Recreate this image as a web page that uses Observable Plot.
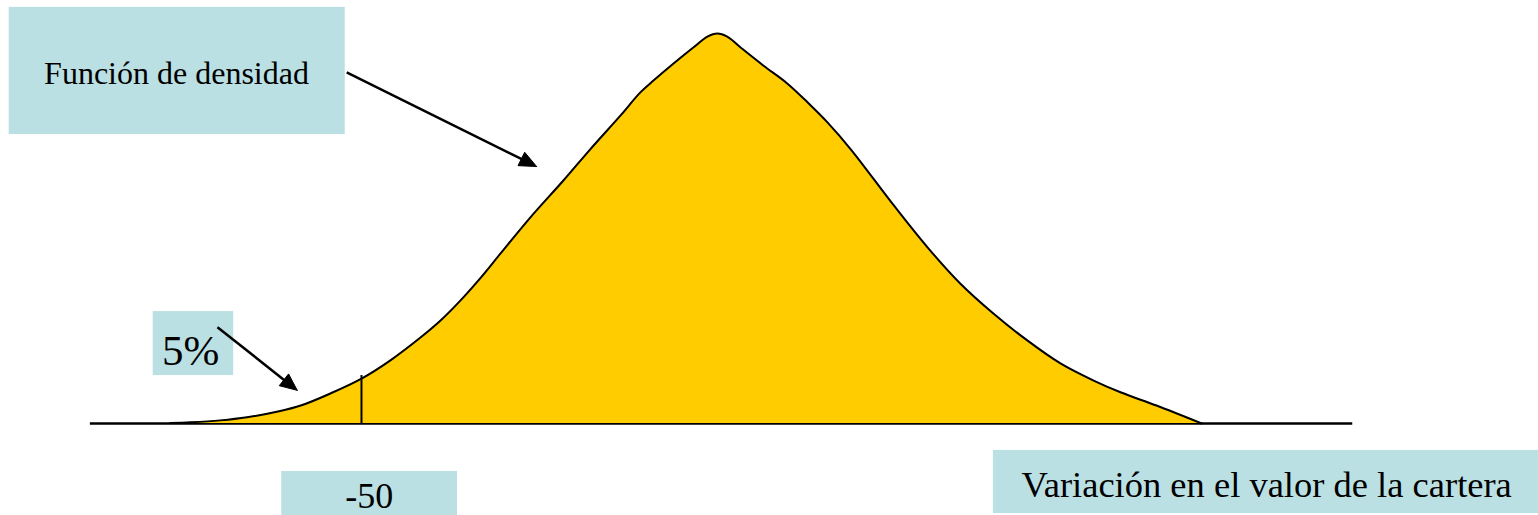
<!DOCTYPE html>
<html>
<head>
<meta charset="utf-8">
<script src="https://cdn.jsdelivr.net/npm/d3@7"></script>
<script src="https://cdn.jsdelivr.net/npm/@observablehq/plot@0.6"></script>
<style>
  html, body { margin: 0; padding: 0; background: #ffffff; }
  #chart svg { display: block; }
  #chart svg text { font-family: "Liberation Serif", "Times New Roman", serif !important; }
</style>
</head>
<body>
<div id="chart"></div>
<script>
// ---- Data ----
// Portfolio value change (x) and relative density (y, peak = 1)
const variation = [-77.1, -74.2, -70.0, -66.2, -61.5, -58.6, -54.4, -50.0, -45.9, -41.6, -38.8, -36.0, -33.1, -30.3, -26.1, -21.4, -17.6, -13.3, -10.5, -8.6, -5.8, -3.0, -1.0, 0.4, 1.8, 3.7, 6.9, 10.3, 13.2, 16.0, 19.3, 25.4, 30.2, 34.8, 39.5, 44.3, 49.0, 53.7, 57.5, 62.6, 69.0];
const density   = [0.001, 0.003, 0.008, 0.016, 0.032, 0.046, 0.077, 0.115, 0.162, 0.221, 0.264, 0.315, 0.374, 0.436, 0.528, 0.623, 0.703, 0.790, 0.849, 0.880, 0.923, 0.964, 0.992, 1.0, 0.992, 0.964, 0.918, 0.872, 0.823, 0.772, 0.703, 0.559, 0.451, 0.359, 0.282, 0.213, 0.154, 0.110, 0.080, 0.046, 0.0];
const varValue = -50;           // 5% quantile
const baselineExtent = [-88.4, 90.4];

// Labels
const densityLabel = "Función de densidad";
const tailLabel = "5%";
const varLabel = "-50";
const axisLabel = "Variación en el valor de la cartera";

// ---- Layout (annotation placement in data units) ----
const W = 1538, H = 515;
const xDomain = [-101.13, 116.71];
const yDomain = [-0.2359, 1.0846];

const boxes = [
  {x1: -99.9, x2: -52.3, y1: 0.741, y2: 1.067},
  {x1: -79.5, x2: -68.1, y1: 0.123, y2: 0.287},
  {x1: -61.3, x2: -36.4, y1: -0.26, y2: -0.123},
  {x1: 39.5, x2: 116.7, y1: -0.231, y2: -0.069}
];
const texts = [
  {x: -76.2, y: 0.897, text: densityLabel, size: 32},
  {x: -74.2, y: 0.185, text: tailLabel, size: 43},
  {x: -48.9, y: -0.187, text: varLabel, size: 36},
  {x: 78.2, y: -0.159, text: axisLabel, size: 36.5}
];
const arrows = [
  {x1: -52.1, y1: 0.900, x2: -25.2, y2: 0.659},
  {x1: -70.4, y1: 0.247, x2: -59.1, y2: 0.085}
];

// ---- Build ----
const curve = variation.map((v, i) => ({x: v, y: density[i]}));
const varDensity = density[variation.indexOf(varValue)];

const X = d3.scaleLinear(xDomain, [0, W]);
const Y = d3.scaleLinear(yDomain, [H, 0]);
function arrowParts(a, L = 17, w = 15) {
  const x0 = X(a.x1), y0 = Y(a.y1), x1 = X(a.x2), y1 = Y(a.y2);
  const ang = Math.atan2(y1 - y0, x1 - x0);
  const bx = x1 - L * Math.cos(ang), by = y1 - L * Math.sin(ang);
  const px = -Math.sin(ang) * w / 2, py = Math.cos(ang) * w / 2;
  const tri = [[x1, y1], [bx + px, by + py], [bx - px, by - py], [x1, y1]]
    .map(([x, y]) => ({x: X.invert(x), y: Y.invert(y)}));
  const shaft = {x1: a.x1, y1: a.y1, x2: X.invert(bx + Math.cos(ang)), y2: Y.invert(by + Math.sin(ang))};
  return {tri, shaft};
}
const parts = arrows.map(a => arrowParts(a));

const font = "Liberation Serif";

const marks = [
  Plot.rect(boxes, {x1: "x1", x2: "x2", y1: "y1", y2: "y2", fill: "#BBE0E3"}),
  Plot.ruleY([0], {x1: baselineExtent[0], x2: baselineExtent[1], stroke: "black", strokeWidth: 2.5}),
  Plot.areaY(curve, {x: "x", y: "y", curve: "catmull-rom", fill: "#FFCC00"}),
  Plot.line(curve, {x: "x", y: "y", curve: "catmull-rom", stroke: "black", strokeWidth: 2}),
  Plot.ruleX([varValue], {y1: 0, y2: varDensity + 0.008, stroke: "black", strokeWidth: 2}),
  Plot.link(parts.map(p => p.shaft), {x1: "x1", y1: "y1", x2: "x2", y2: "y2", stroke: "black", strokeWidth: 2.5}),
  ...parts.map(p => Plot.line(p.tri, {x: "x", y: "y", fill: "black", stroke: "black", strokeWidth: 1})),
  ...texts.map(t => Plot.text([t], {x: "x", y: "y", text: "text", fontSize: t.size, fontFamily: font, fill: "black", textAnchor: "middle"}))
];

const chart = Plot.plot({
  width: W,
  height: H,
  margin: 0,
  x: {domain: xDomain, range: [0, W], axis: null},
  y: {domain: yDomain, range: [H, 0], axis: null},
  style: {background: "white"},
  marks
});
document.getElementById("chart").appendChild(chart);
</script>
</body>
</html>
